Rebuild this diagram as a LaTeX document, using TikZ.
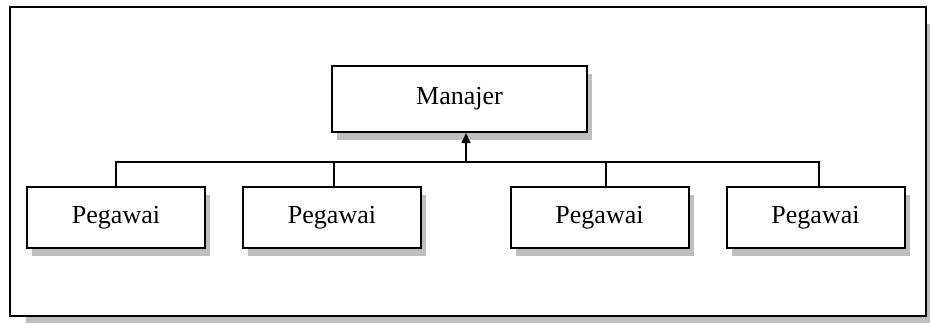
\documentclass[tikz,border=0pt]{standalone}
\usepackage{fontspec}
\setmainfont{Liberation Serif}
\usepackage{tikz}
\usetikzlibrary{arrows.meta}
\usetikzlibrary{shadows}

\tikzset{
	unitbox/.style={rectangle,draw=black,line width=1pt,fill=white,
		inner sep=0pt,font=\fontsize{13}{15}\selectfont,
		drop shadow={shadow xshift=2.5pt,shadow yshift=-3.75pt,fill=black!25,opacity=1}},
	link/.style={line width=0.8pt}
}

\begin{document}
\begin{tikzpicture}[x=0.5pt,y=-0.5pt]
			\useasboundingbox (0,0) rectangle (930,323);
			% frame
			\fill[black!25] (26,24) rectangle (930,323);
			\filldraw[fill=white,line width=1pt] (9.5,6.5) rectangle (925.5,315.5);
			
			% manajer
			
			\node[unitbox,minimum width=127.5pt,minimum height=33pt] (M) at (459.5,99) {Manajer};
			
			% pegawai
			
			\foreach \x/\d [count=\i] in {116/0,332/2,599.5/6.5,815.5/3.5} {
				\node[unitbox,minimum width=89pt,minimum height=30.5pt] (P\i) at (\x,217.5) {Pegawai};
				\coordinate (D\i) at ([xshift=\d*0.5pt]P\i.north);
			}
			\coordinate (bus) at ([xshift=3.25pt,yshift=-14.5pt]M.south);
			\draw[link] (D1) |- (D4 |- bus) -- (D4);
			\draw[link] (D2) -- (D2 |- bus);
			\draw[link] (D3) -- (D3 |- bus);
			\draw[link,-{Triangle[width=4.5pt,length=5pt]}] (bus) -- (bus |- M.south);
			
		\end{tikzpicture}
\end{document}
